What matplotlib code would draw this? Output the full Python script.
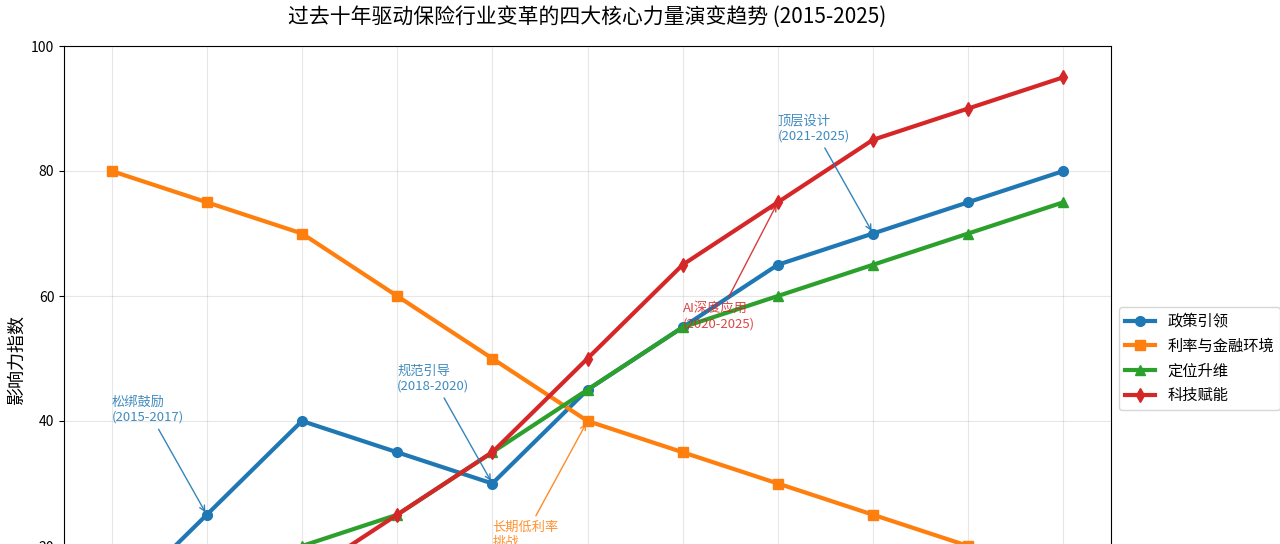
import matplotlib
matplotlib.use("Agg")
import matplotlib.pyplot as plt

plt.rcParams['font.family'] = ['Noto Sans CJK SC', 'DejaVu Sans']
plt.rcParams['axes.unicode_minus'] = False

years = [2015, 2016, 2017, 2018, 2019, 2020, 2021, 2022, 2023, 2024, 2025]
policy = [10, 25, 40, 35, 30, 45, 55, 65, 70, 75, 80]
rates = [80, 75, 70, 60, 50, 40, 35, 30, 25, 20, 15]
position = [10, 15, 20, 25, 35, 45, 55, 60, 65, 70, 75]
tech = [5, 10, 15, 25, 35, 50, 65, 75, 85, 90, 95]

series_names = ['政策引领', '利率与金融环境', '定位升维', '科技赋能']
colors = ['#1f77b4', '#ff7f0e', '#2ca02c', '#d62728']
markers = ['o', 's', '^', 'd']

# annotations: text, text position, target point, colour index
notes = [
    ('松绑鼓励\n(2015-2017)', (2015, 40), (2016, 25), 0),
    ('规范引导\n(2018-2020)', (2018, 45), (2019, 30), 0),
    ('长期低利率\n挑战', (2019, 20), (2020, 40), 1),
    ('AI深度应用\n(2020-2025)', (2021, 55), (2022, 75), 3),
    ('顶层设计\n(2021-2025)', (2022, 85), (2023, 70), 0),
]

fig = plt.figure(figsize=(12.8, 5.44), dpi=100)
# the reference is a crop of a taller figure: the axes run past the bottom edge
ax = fig.add_axes([64 / 1280, 1 - 671 / 544, (1111 - 64) / 1280, 625 / 544])

for name, vals, c, m in zip(series_names, [policy, rates, position, tech], colors, markers):
    ax.plot(years, vals, color=c, marker=m, lw=3, markersize=7, label=name)

for txt, xyt, xy, ci in notes:
    ax.annotate(txt, xy=xy, xytext=xyt, color=colors[ci], fontsize=9.5, alpha=0.85,
                arrowprops=dict(arrowstyle='->', color=colors[ci], lw=1, alpha=0.9))

ax.set_xlim(2014.5, 2025.5)
ax.set_ylim(0, 100)
ax.set_xticks(years)
ax.set_yticks([0, 20, 40, 60, 80, 100])
ax.grid(True, alpha=0.3)
ax.set_ylabel('影响力指数', fontsize=13)
ax.set_title('过去十年驱动保险行业变革的四大核心力量演变趋势 (2015-2025)', fontsize=15, pad=17)
ax.legend(loc='center left', bbox_to_anchor=(1.0, 0.5), fontsize=11)

fig.savefig('out.png', dpi=100)
plt.close(fig)
